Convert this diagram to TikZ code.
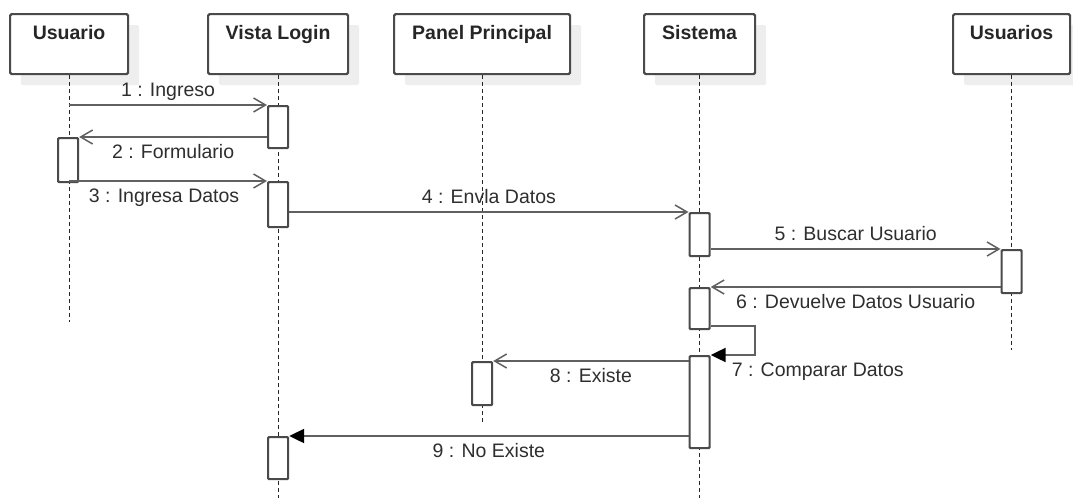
\documentclass[tikz,border=0pt]{standalone}
\usepackage{fontspec}
\setmainfont{Liberation Sans}
\usetikzlibrary{arrows.meta,shadows}
\definecolor{edge}{HTML}{4A4A4A}
\definecolor{wire}{HTML}{606060}
\definecolor{ink}{HTML}{2E2E2E}
\definecolor{shade}{HTML}{EEEEEE}
\begin{document}
\begin{tikzpicture}[x=1pt,y=-1pt,
  font=\fontsize{19.5}{23}\selectfont,
  head/.style={draw=edge, line width=2.2pt, fill=white, rounded corners=1.5pt,
    minimum width=#1, minimum height=60pt, inner sep=0pt, anchor=north west,
    drop shadow={shadow xshift=11pt, shadow yshift=-11pt, fill=shade, opacity=1, draw=none}},
  title/.style={anchor=north, yshift=-12pt, inner sep=0pt, text=black!85, font=\fontsize{19.5}{23}\selectfont\bfseries},
  life/.style={draw=black!85, line width=1.2pt, dash pattern=on 4pt off 3pt},
  act/.style={draw=edge, line width=2.2pt, fill=white, rounded corners=1pt,
    minimum width=20pt, minimum height=#1, inner sep=0pt, anchor=north},
  msg/.style={draw=wire, line width=2.2pt, -{Straight Barb[length=12pt,width=14pt,line width=1.5pt]}},
  call/.style={draw=wire, line width=2.2pt, -{Triangle[length=15pt,width=14pt,color=black]}},
  up/.style={anchor=base, yshift=9pt, text=ink, inner sep=0pt},
  down/.style={anchor=base, yshift=-21pt, text=ink, inner sep=0pt}]
\useasboundingbox (0,0) rectangle (1073,498);

% participant heads
\node[head=118pt] (usr) at (9,13) {};
\node[head=140pt] (vl)  at (207,13) {};
\node[head=176pt] (pp)  at (393,13) {};
\node[head=111pt] (sis) at (643,13) {};
\node[head=117pt] (uss) at (952,13) {};
\node[title] (usrT) at (usr.north) {Usuario};
\node[title] (vlT)  at (vl.north)  {Vista Login};
\node[title] (ppT)  at (pp.north)  {Panel Principal};
\node[title] (sisT) at (sis.north) {Sistema};
\node[title] (ussT) at (uss.north) {Usuarios};

% lifelines
\coordinate (usrEnd) at (usr.south |- 0,322);
\coordinate (vlEnd)  at (vl.south  |- 0,498);
\coordinate (ppEnd)  at (pp.south  |- 0,423);
\coordinate (sisEnd) at (sis.south |- 0,498);
\coordinate (ussEnd) at (uss.south |- 0,350);
\draw[life] (usr.south) -- (usrEnd);
\draw[life] (vl.south)  -- (vlEnd);
\draw[life] (pp.south)  -- (ppEnd);
\draw[life] (sis.south) -- (sisEnd);
\draw[life] (uss.south) -- (ussEnd);

% activation bars
\node[act=42pt] (a1) at (vl.south  |- 0,105) {};
\node[act=44pt] (a2) at ([xshift=-1pt]usr.south |- 0,137) {};
\node[act=45pt] (a3) at (vl.south  |- 0,181) {};
\node[act=43pt] (a4) at (sis.south |- 0,212) {};
\node[act=43pt] (a5) at (uss.south |- 0,249) {};
\node[act=41pt] (a6) at (sis.south |- 0,287) {};
\node[act=92pt] (a7) at (sis.south |- 0,355) {};
\node[act=43pt] (a8) at (pp.south  |- 0,361) {};
\node[act=42pt] (a9) at (vl.south  |- 0,436) {};

% messages
\draw[msg] (usr.south |- a1.north) -- node[up, midway] {1 : Ingreso} (a1.north west);
\draw[msg] (a1.west |- a2.north) -- node[down, midway] {2 : Formulario} (a2.north east);
\draw[msg] (usr.south |- a3.north) -- node[down, midway, xshift=-4pt] {3 : Ingresa Datos} (a3.north west);
\draw[msg] (a3.east |- a4.north) -- node[up, midway] {4 : Envla Datos} (a4.north west);
\draw[msg] (a4.east |- a5.north) -- node[up, midway] {5 : Buscar Usuario} (a5.north west);
\draw[msg] (a5.west |- a6.north) -- node[down, midway] {6 : Devuelve Datos Usuario} (a6.north east);
\draw[call] ([yshift=4pt]a6.south east) -- ++(44,0) |- (a7.north east)
  node[down, anchor=base west, xshift=20pt] {7 : Comparar Datos};
\draw[msg] (a7.west |- a8.north) -- node[down, midway] {8 : Existe} (a8.north east);
\draw[call] (a7.west |- a9.north) -- node[down, midway] {9 : No Existe} (a9.north east);
\end{tikzpicture}
\end{document}
